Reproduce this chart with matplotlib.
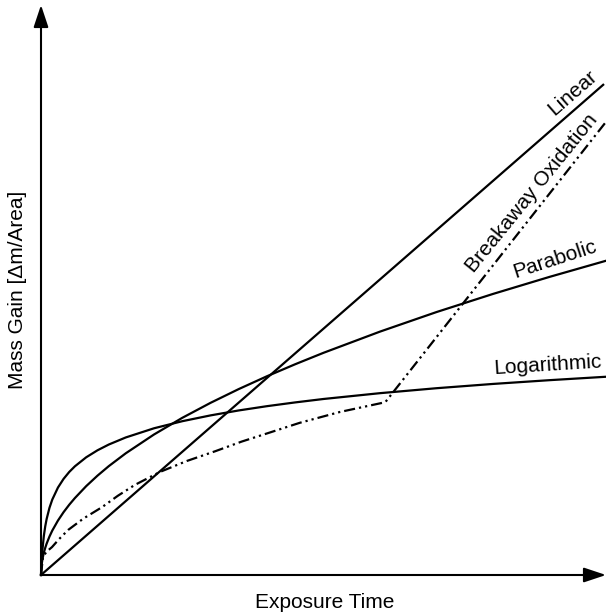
import matplotlib.pyplot as plt

plt.rcParams['font.family'] = ['Liberation Sans', 'DejaVu Sans']

OUT = 'out.png'

# values (arbitrary units, axes run 0..100)
linear_t = [0, 99.5]
linear_m = [0, 86.0]

parabolic_t = [0, 0.05, 0.1, 0.25, 0.5, 0.75, 1, 1.5, 2, 3, 4, 5, 6, 8, 10, 12, 15, 20,
               25, 30, 35, 40, 45, 50, 60, 70, 80, 90, 100]
parabolic_m = [0, 1.23, 1.74, 2.76, 3.90, 4.77, 5.51, 6.75, 7.80, 9.55, 11.03, 12.33,
               13.50, 15.59, 17.43, 19.10, 21.35, 24.65, 27.57, 30.20, 32.62, 34.87,
               36.98, 38.98, 42.70, 46.13, 49.31, 52.30, 55.13]

log_t = [0, 0.05, 0.1, 0.25, 0.5, 0.75, 1, 1.5, 2, 3, 4, 5, 6, 8, 10, 12, 15, 20,
         25, 30, 35, 40, 45, 50, 60, 70, 80, 90, 100]
log_m = [0, 1.19, 2.18, 4.39, 6.84, 8.54, 9.84, 11.79, 13.24, 15.34, 16.87, 18.08,
         19.07, 20.65, 21.88, 22.89, 24.13, 25.74, 26.98, 28.00, 28.87, 29.62,
         30.28, 30.88, 31.90, 32.77, 33.52, 34.18, 34.78]

breakaway_t = [0, 0.35, 1.0, 1.95, 3.2, 4.8, 7.5, 10.8, 13.6, 16.6, 21.1, 25.8, 30.8,
               35.5, 40.2, 45.8, 52.9, 60.4, 61.0, 100]
breakaway_m = [0, 3.2, 4.1, 4.9, 6.3, 7.9, 9.9, 11.9, 13.9, 15.8, 18.1, 20.0, 21.7,
               23.4, 24.9, 26.7, 28.6, 30.2, 30.4, 79.5]

fig = plt.figure(figsize=(6.06, 6.16), dpi=100)
ax = fig.add_axes([41 / 606, 41 / 616, 565 / 606, 570 / 616])
ax.set_xlim(0, 100)
ax.set_ylim(0, 100)
ax.axis('off')

# axes drawn as arrows
arrow = dict(arrowstyle='-|>,head_length=0.9,head_width=0.3', lw=1.5, color='black',
             shrinkA=0, shrinkB=0, mutation_scale=15)
ax.annotate('', xy=(1, 0), xytext=(0, 0), xycoords='axes fraction', arrowprops=arrow,
            annotation_clip=False)
ax.annotate('', xy=(0, 1), xytext=(0, 0), xycoords='axes fraction', arrowprops=arrow,
            annotation_clip=False)

lw = 1.6
ax.plot(linear_t, linear_m, color='black', lw=lw, clip_on=False)
ax.plot(parabolic_t, parabolic_m, color='black', lw=lw, clip_on=False)
ax.plot(log_t, log_m, color='black', lw=lw, clip_on=False)
ax.plot(breakaway_t, breakaway_m, color='black', lw=lw, clip_on=False,
        linestyle=(0, (5, 1.8, 1, 1.8, 1, 1.8)))

fs = 15
ax.text(94.0, 84.6, 'Linear', rotation=41, rotation_mode='anchor',
        ha='center', va='center', fontsize=fs)
ax.text(86.9, 67.0, 'Breakaway Oxidation', rotation=51, rotation_mode='anchor',
        ha='center', va='center', fontsize=fs)
ax.text(91.0, 55.3, 'Parabolic', rotation=18, rotation_mode='anchor',
        ha='center', va='center', fontsize=fs)
ax.text(89.7, 36.8, 'Logarithmic', rotation=3.5, rotation_mode='anchor',
        ha='center', va='center', fontsize=fs)

fig.text(325 / 606, 1 - 602 / 616, 'Exposure Time', ha='center', va='center', fontsize=fs)
fig.text(18 / 606, 1 - 290 / 616, 'Mass Gain [\u0394m/Area]', rotation=90,
         ha='center', va='center', fontsize=fs)

fig.savefig(OUT, dpi=100)
